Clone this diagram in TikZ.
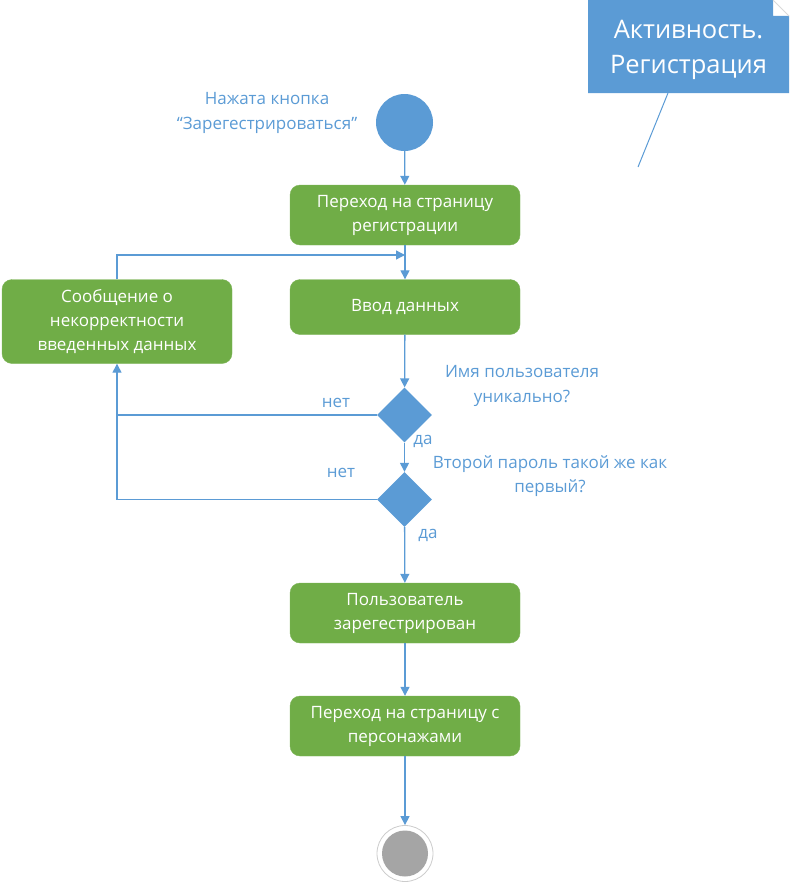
\documentclass[tikz,border=0pt]{standalone}
\usepackage{fontspec}
\setmainfont{Open Sans}
\usetikzlibrary{arrows.meta,shapes.geometric}
\definecolor{ublue}{HTML}{5B9BD5}
\definecolor{ugreen}{HTML}{70AD47}
\definecolor{ugray}{HTML}{A5A5A5}
\begin{document}
\begin{tikzpicture}[x=1pt,y=-1pt,
  actbox/.style={draw=ugreen!90!white,fill=ugreen,rounded corners=10pt,minimum width=230pt,text=white,align=center,font=\fontsize{17}{24}\selectfont,inner sep=0pt},
  decis/.style={diamond,fill=ublue,minimum width=55pt,minimum height=55pt,inner sep=0pt},
  lbl/.style={text=ublue,align=center,font=\fontsize{17}{24.5}\selectfont,inner sep=0pt},
  conn/.style={draw=ublue,line width=1.3pt},
  arr/.style={conn,-{Triangle[length=9pt,width=9pt]}}]
\useasboundingbox (0,0) rectangle (790,883);
% note
\fill[ublue] (588,0) -- (773,0) -- (773,16) -- (789,16) -- (789,93) -- (588,93) -- cycle;
\draw[black!15,line width=0.8pt] (773,0) -- (789,16);
\node[text=white,align=center,font=\fontsize{25.5}{35}\selectfont,inner sep=0pt] (title) at (688.5,50) {Активность.\\Регистрация};
\coordinate (nt1) at (668,93);
\coordinate (nt2) at (638,167);
\draw[ublue,line width=1pt] (nt1) -- (nt2);
% start
\node[circle,fill=ublue,minimum size=57pt,inner sep=0pt] (start) at (404.5,122.5) {};
\node[lbl] (startlbl) at (267,113) {Нажата кнопка\\“Зарегестрироваться”};
% boxes
\node[actbox,minimum height=60pt] (b1) at (405,215) {Переход на страницу\\регистрации};
\node[actbox,minimum height=55pt] (b2) at (405,307) {Ввод данных};
\node[actbox,minimum height=84pt] (err) at (117,321.5) {Сообщение о\\некорректности\\введенных данных};
\node[decis] (d1) at (404.5,415) {};
\node[decis] (d2) at (404.5,499.5) {};
\node[actbox,minimum height=60pt] (b3) at (405,613) {Пользователь\\зарегестрирован};
\node[actbox,minimum height=60pt] (b4) at (405,726) {Переход на страницу с\\персонажами};
\node[circle,draw=black!20,line width=0.8pt,fill=white,minimum size=56pt,inner sep=0pt] (endo) at (405,853.5) {};
\node[circle,fill=ugray,minimum size=46pt,inner sep=0pt] (endi) at (endo) {};
% labels
\node[lbl] (q1) at (522,386) {Имя пользователя\\уникально?};
\node[lbl] (q2) at (550,476) {Второй пароль такой же как\\первый?};
\node[lbl] (no1) at (336,403) {нет};
\node[lbl] (no2) at (341,473) {нет};
\node[lbl] (yes1) at (423,441) {да};
\node[lbl] (yes2) at (428,535) {да};
% connectors
\coordinate (m) at (405,255);
\draw[arr] (start) -- (b1);
\draw[arr] (b1) -- (b2);
\draw[arr] (err.north) |- (m);
\draw[arr] (b2) -- (d1);
\draw[arr] (d1) -- (d2);
\draw[arr] (d1.west) -| (err.south);
\draw[conn] (d2.west) -| (117,415);
\draw[arr] (d2) -- (b3);
\draw[arr] (b3) -- (b4);
\draw[arr] (b4) -- (endo);
\end{tikzpicture}
\end{document}
